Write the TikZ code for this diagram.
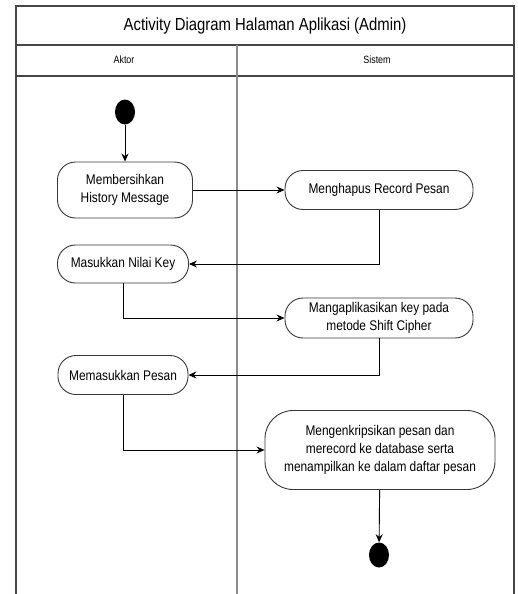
\documentclass[tikz,border=0pt]{standalone}
\usepackage{fontspec}
\setmainfont[FakeStretch=0.85]{Liberation Sans}
\usepackage{tikz}
\usetikzlibrary{arrows.meta,shapes.geometric}
\definecolor{laneline}{RGB}{140,140,140}
\definecolor{frameline}{RGB}{70,70,70}
\definecolor{boxline}{RGB}{55,55,55}
\begin{document}
\begin{tikzpicture}[x=1pt,y=-1pt,
  actbox/.style={draw=boxline,line width=0.9pt,rounded corners=18pt,align=center,
    font=\fontsize{14}{18}\selectfont,inner sep=1pt},
  flow/.style={draw=black,line width=0.9pt,-{Stealth[length=8pt,width=7pt]}},
  blackdot/.style={ellipse,fill=black,minimum width=20pt,minimum height=25pt,inner sep=0pt}]
  \useasboundingbox (0,0) rectangle (517,594);
  % swimlane frame
  \draw[frameline,line width=1.1pt] (16,594) -- (16,6) -- (514,6) -- (514,594);
  \draw[frameline,line width=1.1pt] (16,45) -- (514,45);
  \draw[frameline,line width=1.1pt] (16,76) -- (514,76);
  \draw[laneline,line width=1.2pt] (237,45) -- (237,594);
  \node[font=\fontsize{17.5}{20}\selectfont] (judul) at (265,26) {Activity Diagram Halaman Aplikasi (Admin)};
  \node[font=\fontsize{10.5}{12}\selectfont] (aktor) at (124,60) {Aktor};
  \node[font=\fontsize{10.5}{12}\selectfont] (sistem) at (377,60) {Sistem};
  % activities
  \node[blackdot] (mulai) at (125,112) {};
  \node[actbox,minimum width=135pt,minimum height=56pt] (bersih) at (125,190) {Membersihkan\\History Message};
  \node[actbox,minimum width=188pt,minimum height=39pt] (hapus) at (379,190) {Menghapus Record Pesan};
  \node[actbox,minimum width=131pt,minimum height=38pt] (nilai) at (123,264) {Masukkan Nilai Key};
  \node[actbox,minimum width=188pt,minimum height=40pt] (aplikasi) at (379,318) {Mangaplikasikan key pada\\metode Shift Cipher};
  \node[actbox,minimum width=130pt,minimum height=39pt] (pesan) at (123,375) {Memasukkan Pesan};
  \node[actbox,rounded corners=28pt,minimum width=230pt,minimum height=79pt] (enkripsi) at (380,450) {Mengenkripsikan pesan dan\\merecord ke database serta\\menampilkan ke dalam daftar pesan};
  \node[blackdot] (selesai) at (379,555) {};
  % flows
  \draw[flow] (mulai) -- (bersih);
  \draw[flow] (bersih) -- (hapus);
  \draw[flow] (hapus.south) |- (nilai.east);
  \draw[flow] (nilai.south) |- (aplikasi.west);
  \draw[flow] (aplikasi.south) |- (pesan.east);
  \draw[flow] (pesan.south) |- (enkripsi.west);
  \draw[flow] (enkripsi) -- (selesai);
\end{tikzpicture}
\end{document}
